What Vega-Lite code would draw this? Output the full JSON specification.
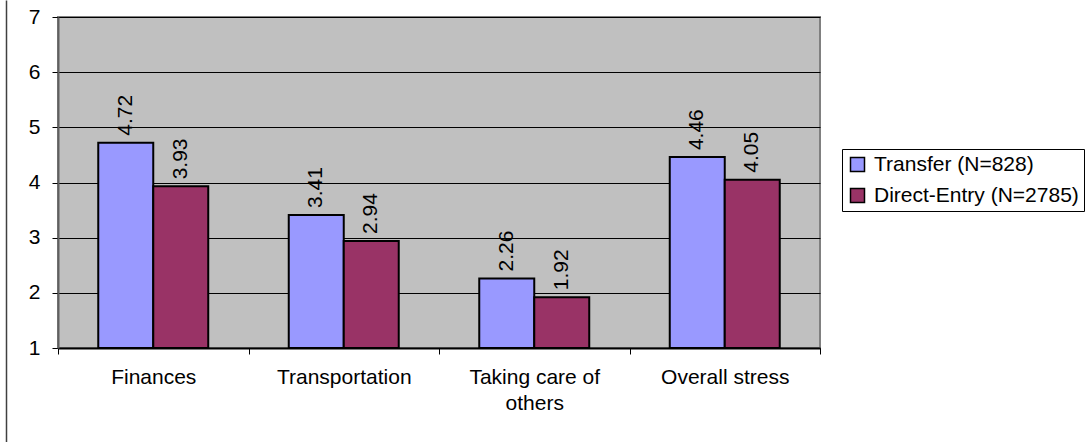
{
  "$schema": "https://vega.github.io/schema/vega-lite/v6.json",
  "autosize": {"type": "none"},
  "width": 762,
  "height": 331,
  "padding": {"left": 58, "top": 17, "right": 266, "bottom": 94},
  "background": "#ffffff",
  "config": {
    "font": "Liberation Sans",
    "view": {"fill": "#c0c0c0", "stroke": "#808080", "strokeWidth": 2}
  },
  "data": {
    "values": [
      {"category": "Finances", "group": "Transfer (N=828)", "score": 4.72},
      {"category": "Finances", "group": "Direct-Entry (N=2785)", "score": 3.93},
      {"category": "Transportation", "group": "Transfer (N=828)", "score": 3.41},
      {"category": "Transportation", "group": "Direct-Entry (N=2785)", "score": 2.94},
      {"category": "Taking care of others", "group": "Transfer (N=828)", "score": 2.26},
      {"category": "Taking care of others", "group": "Direct-Entry (N=2785)", "score": 1.92},
      {"category": "Overall stress", "group": "Transfer (N=828)", "score": 4.46},
      {"category": "Overall stress", "group": "Direct-Entry (N=2785)", "score": 4.05}
    ]
  },
  "layer": [
    {
      "layer": [
        {
          "mark": {"type": "bar", "stroke": "#000000", "strokeWidth": 2},
          "encoding": {
            "x": {
              "field": "category", "type": "nominal",
              "sort": ["Finances", "Transportation", "Taking care of others", "Overall stress"],
              "scale": {"paddingInner": 0, "paddingOuter": 0},
              "axis": {
                "title": null, "labelAngle": 0, "labelFontSize": 21, "labelColor": "#000000",
                "labelPadding": 12, "tickBand": "extent", "tickSize": 6, "tickColor": "#000000",
                "domainColor": "#000000", "domainWidth": 2, "labelLineHeight": 26, "labelLimit": 0,
                "labelExpr": "datum.value == 'Taking care of others' ? ['Taking care of', 'others'] : datum.value"
              }
            },
            "xOffset": {
              "field": "group", "type": "nominal",
              "sort": ["Transfer (N=828)", "Direct-Entry (N=2785)"],
              "scale": {"paddingInner": 0, "paddingOuter": 0.732}
            },
            "y": {
              "field": "score", "type": "quantitative",
              "scale": {"domain": [1, 7], "zero": false, "nice": false},
              "axis": {
                "title": null, "values": [1, 2, 3, 4, 5, 6, 7], "format": "d", "labelFontSize": 21,
                "labelColor": "#000000", "labelPadding": 12, "tickSize": 6, "tickColor": "#000000",
                "domainColor": "#606060", "domainWidth": 2, "grid": true,
                "gridColor": "#000000", "gridWidth": 1, "gridOpacity": 1
              }
            },
            "y2": {"datum": 1},
            "color": {
              "field": "group", "type": "nominal",
              "sort": ["Transfer (N=828)", "Direct-Entry (N=2785)"],
              "scale": {"domain": ["Transfer (N=828)", "Direct-Entry (N=2785)"], "range": ["#9999ff", "#993366"]},
              "legend": {
                "title": null, "orient": "none", "legendX": 784, "legendY": 132,
                "labelFontSize": 21, "labelColor": "#000000", "labelLimit": 0, "symbolType": "square",
                "symbolSize": 196, "symbolStrokeColor": "#000000", "symbolStrokeWidth": 1.5,
                "symbolOpacity": 1, "labelOffset": 6, "rowPadding": 9,
                "padding": 5, "strokeColor": "#000000", "fillColor": "#ffffff"
              }
            }
          }
        },
        {
          "mark": {"type": "text", "angle": 270, "align": "left", "baseline": "middle", "dx": 7, "fontSize": 21, "color": "#000000"},
          "encoding": {
            "x": {"field": "category", "type": "nominal", "sort": ["Finances", "Transportation", "Taking care of others", "Overall stress"]},
            "xOffset": {"field": "group", "type": "nominal", "sort": ["Transfer (N=828)", "Direct-Entry (N=2785)"]},
            "y": {"field": "score", "type": "quantitative"},
            "text": {"field": "score", "type": "quantitative", "format": ".2f"}
          }
        }
      ]
    },
    {
      "mark": {"type": "rule", "opacity": 0},
      "encoding": {
        "y": {
          "datum": 0, "type": "quantitative",
          "scale": {"domain": [0, 1], "range": [425, -17]},
          "axis": {
            "orient": "left", "offset": 52, "domainColor": "#404040", "domainWidth": 1.5,
            "ticks": false, "labels": false, "grid": false, "title": null
          }
        }
      }
    }
  ],
  "resolve": {"scale": {"y": "independent"}, "axis": {"y": "independent"}}
}
